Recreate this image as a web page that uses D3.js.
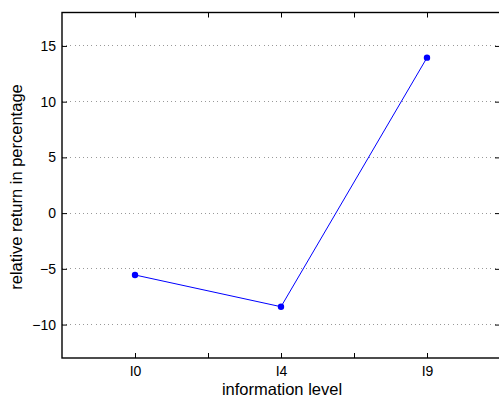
<!DOCTYPE html>
<html><head><meta charset="utf-8">
<script src="https://cdn.jsdelivr.net/npm/d3@7"></script>
<style>body{margin:0;background:#fff}svg{display:block}text{font-family:"Liberation Sans",Arial,sans-serif;}</style>
</head><body><svg id="c" width="499" height="396"></svg>
<script>
const categories = ["I0", "I4", "I9"];
const catPositions = [1, 3, 5];
const values = [-5.55, -8.4, 13.95];
const xTicks = [1, 2, 3, 4, 5];
const yTicks = [-10, -5, 0, 5, 10, 15];
const xLabel = "information level";
const yLabel = "relative return in percentage";

const svg = d3.select("#c");
const L = 62, R = 500, T = 12.5, B = 358;
const x = d3.scaleLinear().domain([0, 6]).range([L, R]);
const y = d3.scaleLinear().domain([-13, 18]).range([B, T]);

// grid
svg.append("g").selectAll("line").data(yTicks).join("line")
  .attr("x1", L).attr("x2", R).attr("y1", d => y(d)).attr("y2", d => y(d))
  .attr("stroke", "#999").attr("stroke-width", 1).attr("stroke-dasharray", "1,3.2")
  .attr("shape-rendering", "crispEdges");

// axes with inward ticks
const ax = svg.append("g").attr("transform", `translate(0,${B})`)
  .call(d3.axisBottom(x).tickValues(xTicks).tickSizeInner(-5).tickSizeOuter(0)
    .tickFormat(d => { const i = catPositions.indexOf(d); return i >= 0 ? categories[i] : ""; }));
ax.select(".domain").remove();
ax.selectAll("text").attr("dy", "0").attr("y", 18).attr("font-size", 14).attr("fill", "#000");
ax.selectAll("line").attr("stroke", "#000");

const axt = svg.append("g").attr("transform", `translate(0,${T})`)
  .call(d3.axisTop(x).tickValues(xTicks).tickSizeInner(-5).tickSizeOuter(0).tickFormat(""));
axt.select(".domain").remove();

const ay = svg.append("g").attr("transform", `translate(${L},0)`)
  .call(d3.axisLeft(y).tickValues(yTicks).tickSizeInner(-5).tickSizeOuter(0)
    .tickFormat(d => d < 0 ? "\u2212" + Math.abs(d) : String(d)));
ay.select(".domain").remove();
ay.selectAll("text").attr("x", -6).attr("font-size", 14).attr("fill", "#000");

const ayr = svg.append("g").attr("transform", `translate(${R},0)`)
  .call(d3.axisRight(y).tickValues(yTicks).tickSizeInner(-5).tickSizeOuter(0).tickFormat(""));
ayr.select(".domain").remove();

// box
svg.append("rect").attr("x", L).attr("y", T).attr("width", R - L).attr("height", B - T)
  .attr("fill", "none").attr("stroke", "#000").attr("stroke-width", 1.4);

// line
const pts = categories.map((c, i) => [catPositions[i], values[i]]);
svg.append("path").datum(pts)
  .attr("d", d3.line().x(d => x(d[0])).y(d => y(d[1])))
  .attr("fill", "none").attr("stroke", "#0000ff").attr("stroke-width", 1);
svg.append("g").selectAll("circle").data(pts).join("circle")
  .attr("cx", d => x(d[0])).attr("cy", d => y(d[1])).attr("r", 3.2).attr("fill", "#0000ff");

// labels
svg.append("text").attr("x", 282).attr("y", 394.5).attr("text-anchor", "middle")
  .attr("font-size", 16.5).text(xLabel);
svg.append("text").attr("transform", `translate(21.5,187) rotate(-90)`)
  .attr("text-anchor", "middle").attr("font-size", 16.5).text(yLabel);
</script></body></html>
